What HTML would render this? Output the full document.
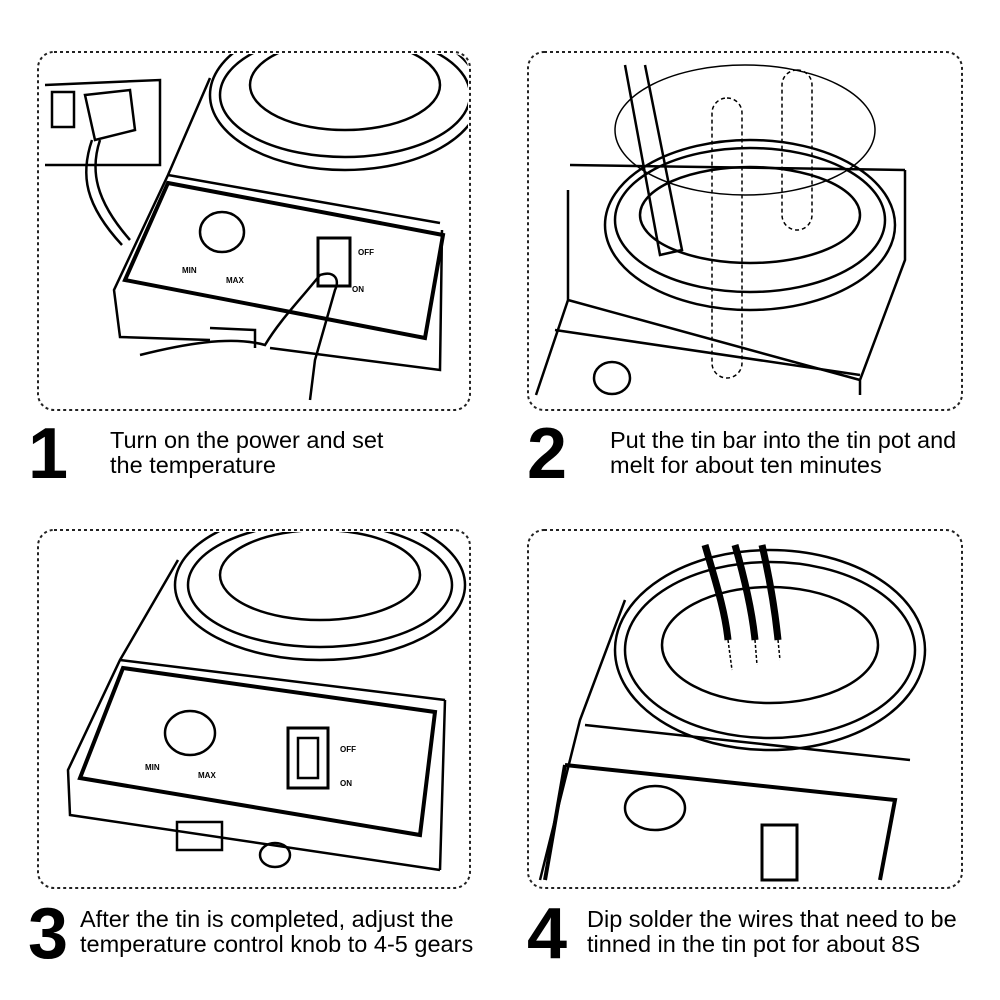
<!DOCTYPE html>
<html><head><meta charset="utf-8"><style>
html,body{margin:0;padding:0;background:#fff;}
svg{display:block;}
text{font-family:"Liberation Sans",Arial,sans-serif;fill:#000;}
.n{font-size:72px;font-weight:bold;}
.t{font-size:23.5px;}
</style></head><body>
<svg width="1000" height="1000" viewBox="0 0 1000 1000" xmlns="http://www.w3.org/2000/svg">
<defs>
<clipPath id="c1"><rect x="40" y="54" width="428" height="354" rx="14"/></clipPath>
<clipPath id="c2"><rect x="530" y="54" width="430" height="354" rx="14"/></clipPath>
<clipPath id="c3"><rect x="40" y="532" width="428" height="354" rx="14"/></clipPath>
<clipPath id="c4"><rect x="530" y="532" width="430" height="354" rx="14"/></clipPath>
</defs>
<g fill="none" stroke="#222" stroke-width="2" stroke-dasharray="3,3">
<rect x="38" y="52" width="432" height="358" rx="16"/>
<rect x="528" y="52" width="434" height="358" rx="16"/>
<rect x="38" y="530" width="432" height="358" rx="16"/>
<rect x="528" y="530" width="434" height="358" rx="16"/>
</g>

<!-- Panel 1 -->
<g clip-path="url(#c1)" fill="none" stroke="#000" stroke-width="2.5">
<ellipse cx="345" cy="95" rx="135" ry="75"/>
<ellipse cx="345" cy="95" rx="125" ry="62"/>
<ellipse cx="345" cy="85" rx="95" ry="45"/>
<path d="M210 78 L168 175 L114 290 L120 337 L210 340 M270 348 L440 370 L442 230"/>
<path d="M168 175 L440 223"/>
<path d="M168 183 L443 235 L425 338 L125 280 Z" stroke-width="4"/>
<path d="M210 328 L255 330 L255 348"/>
<ellipse cx="222" cy="232" rx="22" ry="20"/>
<rect x="318" y="238" width="32" height="48" stroke-width="3"/>
<path d="M140 355 C180 345 230 335 265 345 C280 320 300 300 320 275 C335 270 340 280 335 290 L315 360 L310 400"/>
<path d="M45 85 L160 80 L160 165 L45 165"/>
<rect x="52" y="92" width="22" height="35"/>
<path d="M85 95 L130 90 L135 130 L95 140 Z"/>
<path d="M100 140 C90 170 95 200 130 240"/>
<path d="M92 140 C80 175 85 205 122 245"/>
</g>
<g font-size="8" font-weight="bold" font-family="Liberation Sans"><text x="182" y="273">MIN</text><text x="226" y="283">MAX</text><text x="358" y="255">OFF</text><text x="352" y="292">ON</text></g>

<!-- Panel 2 -->
<g clip-path="url(#c2)" fill="none" stroke="#000" stroke-width="2.5">
<path d="M568 190 L568 300 L536 395 M568 300 L860 380 L860 395 M905 170 L905 260 L860 380"/>
<path d="M570 165 L905 170"/>
<ellipse cx="750" cy="225" rx="145" ry="85"/>
<ellipse cx="750" cy="220" rx="135" ry="72"/>
<ellipse cx="750" cy="215" rx="110" ry="48"/>
<ellipse cx="745" cy="130" rx="130" ry="65" stroke-width="1.5"/>
<rect x="712" y="98" width="30" height="280" rx="15" stroke-dasharray="4,3" stroke-width="1.5"/>
<rect x="782" y="70" width="30" height="160" rx="15" stroke-dasharray="4,3" stroke-width="1.5"/>
<path d="M625 65 L660 255 L682 250 L645 65"/>
<path d="M555 330 L860 375"/>
<ellipse cx="612" cy="378" rx="18" ry="16"/>
</g>

<!-- Panel 3 -->
<g clip-path="url(#c3)" fill="none" stroke="#000" stroke-width="2.5">
<ellipse cx="320" cy="585" rx="145" ry="75"/>
<ellipse cx="320" cy="585" rx="132" ry="62"/>
<ellipse cx="320" cy="575" rx="100" ry="45"/>
<path d="M178 560 L120 660 L68 770 L70 815 L440 870 M445 700 L440 870"/>
<path d="M120 660 L445 700"/>
<path d="M123 668 L435 712 L420 835 L80 778 Z" stroke-width="4"/>
<ellipse cx="190" cy="733" rx="25" ry="22"/>
<rect x="288" y="728" width="40" height="60" stroke-width="3"/>
<rect x="298" y="738" width="20" height="40"/>
<rect x="177" y="822" width="45" height="28"/>
<ellipse cx="275" cy="855" rx="15" ry="12"/>
</g>
<g font-size="8" font-weight="bold" font-family="Liberation Sans"><text x="145" y="770">MIN</text><text x="198" y="778">MAX</text><text x="340" y="752">OFF</text><text x="340" y="786">ON</text></g>

<!-- Panel 4 -->
<g clip-path="url(#c4)" fill="none" stroke="#000" stroke-width="2.5">
<ellipse cx="770" cy="650" rx="155" ry="100"/>
<ellipse cx="770" cy="650" rx="145" ry="88"/>
<ellipse cx="770" cy="645" rx="108" ry="58"/>
<path d="M625 600 L580 720 L540 880 M585 725 L910 760"/>
<path d="M565 765 L895 800 L880 880" stroke-width="4"/>
<path d="M565 765 L545 880" stroke-width="4"/>
<ellipse cx="655" cy="808" rx="30" ry="22"/>
<rect x="762" y="825" width="35" height="55" stroke-width="3"/>
<path d="M705 545 C715 580 725 610 728 640 M735 545 C745 580 752 610 755 640 M762 545 C770 580 775 610 778 640" stroke-width="7"/>
<path d="M728 640 L732 670 M755 640 L757 665 M778 640 L780 660" stroke-width="1.5" stroke-dasharray="3,2"/>
</g>

<text class="n" x="28" y="478">1</text>
<text class="t" x="110" y="448">Turn on the power and set</text>
<text class="t" x="110" y="473">the temperature</text>
<text class="n" x="527" y="478">2</text>
<text class="t" x="610" y="448">Put the tin bar into the tin pot and</text>
<text class="t" x="610" y="473">melt for about ten minutes</text>
<text class="n" x="28" y="958">3</text>
<text class="t" x="80" y="927">After the tin is completed, adjust the</text>
<text class="t" x="80" y="952">temperature control knob to 4-5 gears</text>
<text class="n" x="527" y="958">4</text>
<text class="t" x="587" y="927">Dip solder the wires that need to be</text>
<text class="t" x="587" y="952">tinned in the tin pot for about 8S</text>
</svg>
</body></html>
